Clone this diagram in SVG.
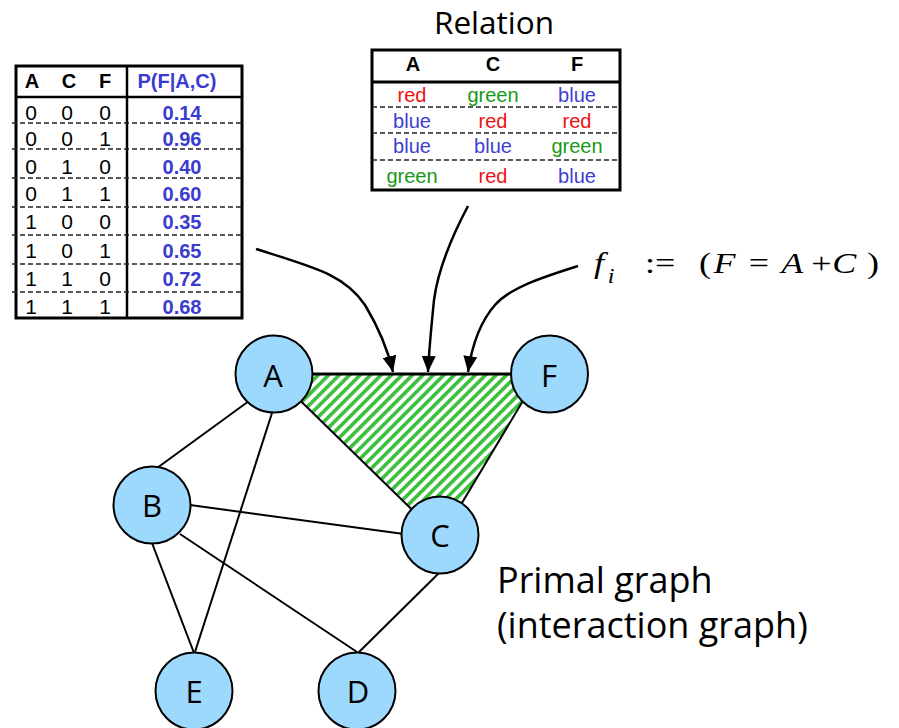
<svg xmlns="http://www.w3.org/2000/svg" width="899" height="728" viewBox="0 0 899 728">
<style>
.node circle{fill:#9dd8fd;stroke:#000;stroke-width:2}
.node text{font-family:"Open Sans","Noto Sans",sans-serif;font-size:31px;text-anchor:middle;fill:#000}
.edge{stroke:#000;stroke-width:2;fill:none}
.arrow{stroke:#000;stroke-width:2.5;fill:none;marker-end:url(#ah)}
.tb{fill:none;stroke:#000;stroke-width:3}
.dash{stroke:#222;stroke-width:1.5;stroke-dasharray:5 3}
.ar{font-family:"Liberation Sans",Arial,sans-serif;text-anchor:middle}
.hd{font-weight:bold;font-size:20px;fill:#000}
.dg{font-size:21px;fill:#000}
.pv{font-weight:bold;font-size:20px;fill:#3b3bd0}
.rel{font-size:20px}
.r{fill:#f01010}.g{fill:#169a16}.b{fill:#3e3ecf}
.big{font-family:"Open Sans","Noto Sans",sans-serif;fill:#000}
.tm{font-family:"Liberation Serif","Times New Roman",serif;font-size:30px;fill:#000}
.it{font-style:italic}
</style>
<defs>
<pattern id="hatch" patternUnits="userSpaceOnUse" width="7.4" height="7.4" patternTransform="rotate(45)">
<rect x="0" y="0" width="7.4" height="7.4" fill="#fff"/>
<rect x="0" y="0" width="3.6" height="7.4" fill="#3cbf3c"/>
</pattern>
<marker id="ah" markerUnits="userSpaceOnUse" markerWidth="16" markerHeight="14" refX="16" refY="7" orient="auto">
<path d="M0,0 L16,7 L0,14 z" fill="#000"/>
</marker>
</defs>

<!-- CPT table -->
<g id="cpt-table">
<rect class="tb" x="16" y="66" width="226" height="252"/>
<line x1="16" y1="97" x2="242" y2="97" stroke="#000" stroke-width="2.5"/>
<line x1="127" y1="66" x2="127" y2="318" stroke="#000" stroke-width="2.5"/>
<g class="dash">
<line x1="12" y1="123" x2="242" y2="123"/>
<line x1="12" y1="149" x2="242" y2="149"/>
<line x1="12" y1="178" x2="242" y2="178"/>
<line x1="12" y1="207" x2="242" y2="207"/>
<line x1="12" y1="235" x2="242" y2="235"/>
<line x1="12" y1="264" x2="242" y2="264"/>
<line x1="12" y1="292" x2="242" y2="292"/>
</g>
<text class="ar hd" x="32" y="88">A</text>
<text class="ar hd" x="69" y="88">C</text>
<text class="ar hd" x="105" y="88">F</text>
<text class="ar hd" x="177" y="88" style="fill:#3b3bd0">P(F|A,C)</text>
<g class="ar dg">
<text x="31" y="120">0</text><text x="67" y="120">0</text><text x="105" y="120">0</text>
<text x="31" y="146">0</text><text x="67" y="146">0</text><text x="105" y="146">1</text>
<text x="31" y="174">0</text><text x="67" y="174">1</text><text x="105" y="174">0</text>
<text x="31" y="201">0</text><text x="67" y="201">1</text><text x="105" y="201">1</text>
<text x="31" y="229">1</text><text x="67" y="229">0</text><text x="105" y="229">0</text>
<text x="31" y="258">1</text><text x="67" y="258">0</text><text x="105" y="258">1</text>
<text x="31" y="286">1</text><text x="67" y="286">1</text><text x="105" y="286">0</text>
<text x="31" y="314">1</text><text x="67" y="314">1</text><text x="105" y="314">1</text>
</g>
<g class="ar pv">
<text x="182" y="120">0.14</text>
<text x="182" y="146">0.96</text>
<text x="182" y="174">0.40</text>
<text x="182" y="201">0.60</text>
<text x="182" y="229">0.35</text>
<text x="182" y="258">0.65</text>
<text x="182" y="286">0.72</text>
<text x="182" y="314">0.68</text>
</g>
</g>

<!-- Relation table -->
<g id="relation-table">
<text class="big" x="494" y="34" font-size="31.5" text-anchor="middle">Relation</text>
<rect class="tb" x="372" y="50" width="248" height="140"/>
<line x1="372" y1="82" x2="620" y2="82" stroke="#000" stroke-width="3"/>
<g class="dash">
<line x1="372" y1="107" x2="620" y2="107"/>
<line x1="372" y1="133" x2="620" y2="133"/>
<line x1="372" y1="160" x2="620" y2="160"/>
</g>
<text class="ar hd" x="413" y="71">A</text>
<text class="ar hd" x="493" y="71">C</text>
<text class="ar hd" x="577" y="71">F</text>
<g class="ar rel">
<text class="r" x="412" y="102">red</text><text class="g" x="493" y="102">green</text><text class="b" x="577" y="102">blue</text>
<text class="b" x="412" y="128">blue</text><text class="r" x="493" y="128">red</text><text class="r" x="577" y="128">red</text>
<text class="b" x="412" y="153">blue</text><text class="b" x="493" y="153">blue</text><text class="g" x="577" y="153">green</text>
<text class="g" x="412" y="183">green</text><text class="r" x="493" y="183">red</text><text class="b" x="577" y="183">blue</text>
</g>
</g>

<!-- formula (horizontally stretched like the reference) -->
<g id="formula" transform="scale(1.2,1)">
<text class="tm it" x="495" y="273">f</text>
<text class="tm it" x="506.5" y="283" style="font-size:20px">i</text>
<text class="tm" x="537.5" y="273">:=</text>
<text class="tm" x="582.5" y="273">(</text>
<text class="tm it" x="594.5" y="273">F</text>
<text class="tm" x="624" y="273">=</text>
<text class="tm it" x="651" y="273">A</text>
<text class="tm" x="676" y="273">+</text>
<text class="tm it" x="693.5" y="273">C</text>
<text class="tm" x="722.5" y="273">)</text>
</g>

<!-- caption -->
<g id="caption">
<text class="big" x="497" y="593" font-size="36">Primal graph</text>
<text class="big" x="497" y="638" font-size="36">(interaction graph)</text>
</g>

<!-- hatched scope -->
<polygon id="scope" points="273,374 539,374 441,538" fill="url(#hatch)"/>

<!-- connectors -->
<g id="connectors">
<line class="edge" x1="274" y1="374" x2="549" y2="374" style="stroke-width:3"/>
<line class="edge" x1="273" y1="374" x2="441" y2="538"/>
<line class="edge" x1="539" y1="374" x2="441" y2="538"/>
<line class="edge" x1="249" y1="401" x2="157" y2="468"/>
<line class="edge" x1="272" y1="413" x2="195" y2="652"/>
<line class="edge" x1="190" y1="505" x2="404" y2="534"/>
<line class="edge" x1="180" y1="534" x2="357" y2="652"/>
<line class="edge" x1="152" y1="543" x2="194" y2="653"/>
<line class="edge" x1="440" y1="572" x2="358" y2="653"/>
<path class="arrow" d="M256,249 C316,268 345,275 365,305 C380,330 388,350 393,372"/>
<path class="arrow" d="M468,206 C450,240 438,270 434,300 C431,330 429,350 428,372"/>
<path class="arrow" d="M578,266 C540,278 510,288 495,305 C480,322 472,345 468,372"/>
</g>

<!-- nodes -->
<g id="node-A" class="node"><circle cx="274" cy="374" r="38.5"/><text x="273" y="387">A</text></g>
<g id="node-F" class="node"><circle cx="549.5" cy="374" r="38.5"/><text x="549" y="387">F</text></g>
<g id="node-B" class="node"><circle cx="152" cy="505" r="38.5"/><text x="152" y="517">B</text></g>
<g id="node-C" class="node"><circle cx="440" cy="535" r="38.5"/><text x="440" y="547">C</text></g>
<g id="node-E" class="node"><circle cx="194" cy="691" r="38.5"/><text x="194" y="703">E</text></g>
<g id="node-D" class="node"><circle cx="357" cy="691" r="38.5"/><text x="358" y="703">D</text></g>
</svg>
